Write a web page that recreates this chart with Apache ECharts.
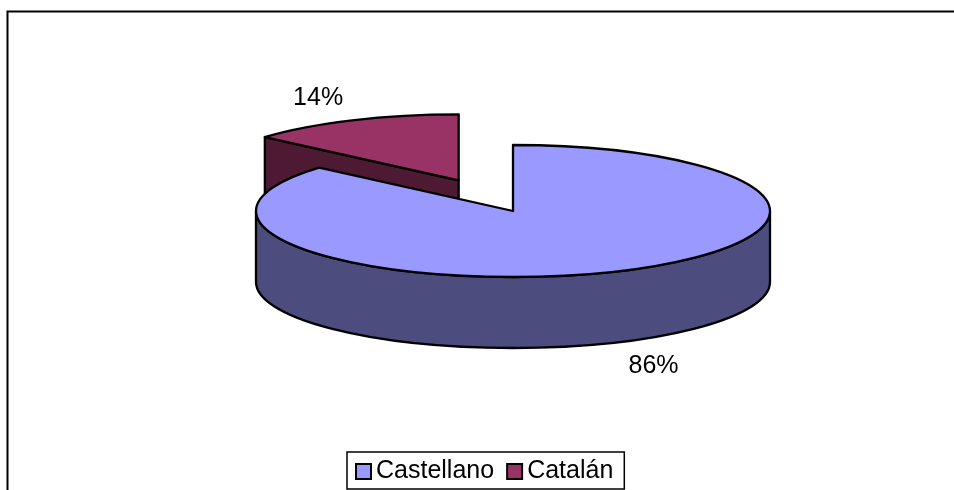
<!DOCTYPE html>
<html><head><meta charset="utf-8">
<style>html,body{margin:0;padding:0;background:#fff}#c{width:954px;height:490px}</style>
<script src="https://cdn.jsdelivr.net/npm/echarts@6/dist/echarts.min.js"></script>
</head><body><div id="c"></div>
<script>
const categories = ['Castellano', 'Catalán'];
const shares = [86.4, 13.6];
const labels = ['86%', '14%'];
const explode = [0, 0.51];
const topColors = ['#9999ff', '#993366'];
const sideColors = ['#4c4c7f', '#4d1933'];

const FONT = '"Liberation Sans", Arial, sans-serif';
const CX = 513, CY = 211, RX = 257, RY = 66, DEPTH = 71;
const total = shares.reduce((a, b) => a + b, 0);

function slice(i) {
  const before = shares.slice(0, i).reduce((a, b) => a + b, 0);
  const a0 = before / total * 2 * Math.PI;
  const a1 = (before + shares[i]) / total * 2 * Math.PI;
  const mid = (a0 + a1) / 2;
  const ox = CX + explode[i] * RX * Math.sin(mid);
  const oy = CY - explode[i] * RY * Math.cos(mid);
  const pt = a => [ox + RX * Math.sin(a), oy - RY * Math.cos(a)];
  return { a0, a1, mid, ox, oy, pt };
}
const arc = (p, large) => `A ${RX} ${RY} 0 ${large} 1 ${p[0]} ${p[1]}`;

function renderSlice(params, api) {
  const i = params.seriesIndex;
  const s = slice(i);
  const start = s.pt(s.a0), end = s.pt(s.a1);
  const large = s.a1 - s.a0 > Math.PI ? 1 : 0;
  const stroke = { stroke: '#000', lineWidth: 2.3, lineJoin: 'round' };
  const children = [];
  // Visible side: cut face for the back slice, front rim for the wedge across the front.
  let side;
  if (s.a0 < Math.PI / 2 && s.a1 > 3 * Math.PI / 2) {
    const l = s.pt(3 * Math.PI / 2), r = s.pt(Math.PI / 2);
    side = `M ${r[0]} ${r[1]} ${arc(l, 0)} L ${l[0]} ${l[1] + DEPTH} ` +
      `A ${RX} ${RY} 0 0 0 ${r[0]} ${r[1] + DEPTH} Z`;
  } else {
    side = `M ${s.ox} ${s.oy} L ${start[0]} ${start[1]} L ${start[0]} ${start[1] + DEPTH} ` +
      `L ${s.ox} ${s.oy + DEPTH} Z`;
  }
  children.push({ type: 'path', shape: { pathData: side },
    style: Object.assign({ fill: sideColors[i] }, stroke) });
  children.push({ type: 'path',
    shape: { pathData: `M ${s.ox} ${s.oy} L ${start[0]} ${start[1]} ${arc(end, large)} Z` },
    style: Object.assign({ fill: topColors[i] }, stroke) });
  const dropped = Math.cos(s.mid) < 0 ? DEPTH + 2 : 0;
  children.push({ type: 'text', z2: 10, style: {
    text: labels[i], x: s.ox + 1.32 * RX * Math.sin(s.mid),
    y: s.oy - 1.37 * RY * Math.cos(s.mid) + dropped,
    fill: '#000', font: '25px ' + FONT, align: 'center', verticalAlign: 'middle' } });
  return { type: 'group', children };
}

// Drawing order: the exploded back slice sits behind the large slice.
const series = categories.map((name, i) => ({
  type: 'custom', name, coordinateSystem: 'none', silent: true,
  z: i === 0 ? 3 : 2, itemStyle: { color: topColors[i] },
  data: [shares[i]], renderItem: renderSlice, animation: false
}));

const chart = echarts.init(document.getElementById('c'), null, { renderer: 'canvas' });
chart.setOption({
  backgroundColor: '#fff', animation: false,
  graphic: [{ type: 'rect', z: 0, silent: true, shape: { x: 7.5, y: 11.5, width: 1100, height: 1000 },
    style: { fill: '#fff', stroke: '#000', lineWidth: 2 } }],
  legend: {
    data: categories, left: 347, top: 452, width: 277, orient: 'horizontal',
    padding: [7, 11, 5, 8], itemGap: 12, itemWidth: 15, itemHeight: 15, icon: 'rect',
    borderColor: '#000', borderWidth: 1.5, backgroundColor: '#fff',
    itemStyle: { borderColor: '#000', borderWidth: 2 },
    textStyle: { color: '#000', fontFamily: FONT, fontSize: 25 },
    selectedMode: false
  },
  series
});
</script></body></html>
